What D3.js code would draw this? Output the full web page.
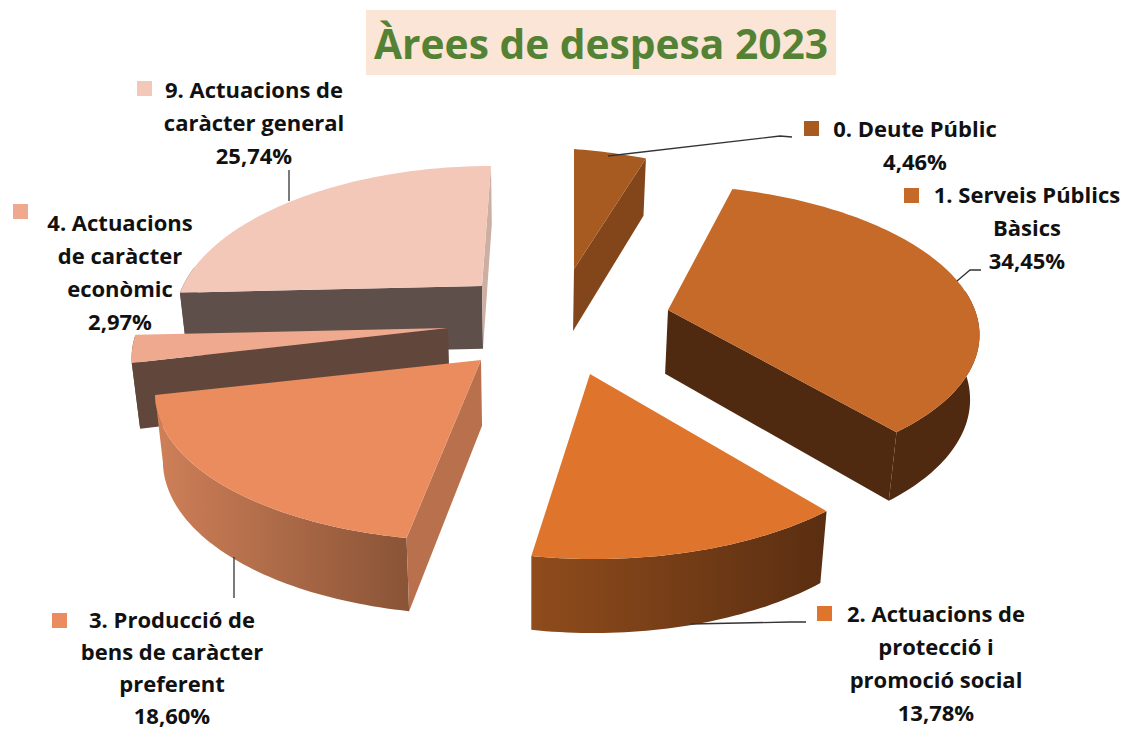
<!DOCTYPE html>
<html>
<head>
<meta charset="utf-8">
<script src="https://d3js.org/d3.v7.min.js"></script>
<style>html,body{margin:0;padding:0;background:#fff}svg{display:block}</style>
</head>
<body>
<script>
const categories = ["0. Deute Públic","1. Serveis Públics Bàsics","2. Actuacions de protecció i promoció social","3. Producció de bens de caràcter preferent","4. Actuacions de caràcter econòmic","9. Actuacions de caràcter general"];
const values = [4.46,34.45,13.78,18.60,2.97,25.74];
const labelLines = [["0. Deute Públic"],["1. Serveis Públics","Bàsics"],["2. Actuacions de","protecció i","promoció social"],["3. Producció de","bens de caràcter","preferent"],["4. Actuacions","de caràcter","econòmic"],["9. Actuacions de","caràcter general"]];
const titleText = "Àrees de despesa 2023";

// layout & style (not data)
const topColors  = ["#a85b20","#c56a28","#df752c","#eb8c5f","#eea98f","#f3c8b9"];
const cutColors  = ["#83461a","#4f2a10",null,"#b9704d","#60463b","#5f4f4a"];
const wallLeft   = ["#83461a","#4f2a10","#8f4c1c","#cf8058","#60463b","#5f4f4a"];
const wallRight  = ["#83461a","#4f2a10","#5a2e11","#8a5437","#60463b","#5f4f4a"];
const cutSides   = [[1],[1],[],[0],[0],[0,1]];
const strip9     = "#cdaea3";
const apexes     = [[574,269],[668,310],[590,374],[481,360],[448,328],[482,286]];
const perspectives = [0.2,0.137,0.13,0.2,0.2,0.2];
const rimFx      = [1,0.99,1.055,1.025,1.0,0.965];
const rimFy      = [1,0.99,1.118,1.007,1.0,1.0];
const shearX     = [0,-11,-4.5,8,0,9];
const shearY     = [20,0,0,0,0,0];
const drawOrder  = [5,4,3,0,1,2];
const labelAnchors = [[915,137,804,121],[1027,203,904,188],[936,622,817,606],[172,628,52,613],[120,231,13,204],[254,98,137,81]];
const lineH = [33,33,33,32,33,33];
const leaders = [
 [[608,156],[780,136],[792,137]],
 [[957,281],[970,270],[981,270]],
 [[690,624],[790,622],[806,622]],
 [[234,557],[234,598]],
 [[289,201],[289,170]]
];

const W=1129,H=729;
const svg=d3.select("body").append("svg").attr("width",W).attr("height",H).style("font-family","'Open Sans', Lato, sans-serif");
const defs=svg.append("defs");

const xS=d3.scaleLinear().domain([-1,1]).range([-310,310]);
const yS=d3.scaleLinear().domain([-1,1]).range([144,-144]);
const depthS=d3.scaleLinear().domain([150,560]).range([57,74]);
const vanishX=530, vanishK=0.021;

const arcs=d3.pie().value(d=>d).sort(null).startAngle(0).endAngle(2*Math.PI)(values);

function rimPoint(i,a){
  const u=Math.sin(a), v=Math.cos(a), s=1/(1+perspectives[i]*v);
  return [apexes[i][0]+xS(u)*s*rimFx[i]+shearX[i]*v, apexes[i][1]+yS(v)*s*rimFy[i]+shearY[i]*u];
}
function lower(p){
  return [p[0]+(vanishX-p[0])*vanishK, p[1]+depthS(p[1])];
}
const line=d3.line();
function rimAngles(a0,a1){
  const n=Math.max(2,Math.ceil((a1-a0)/0.02));
  return d3.range(n+1).map(k=>a0+(a1-a0)*k/n);
}

// title
svg.append("rect").attr("x",366).attr("y",10).attr("width",470).attr("height",65).attr("fill","#fbe5d6");
svg.append("text").attr("x",601).attr("y",59).attr("text-anchor","middle")
  .attr("font-size",40.7).attr("font-weight",700).attr("fill","#548235").text(titleText);

// slices
drawOrder.forEach(i=>{
  const d=arcs[i], g=svg.append("g").attr("class","slice");
  const angles=rimAngles(d.startAngle,d.endAngle);
  const pts=angles.map(a=>rimPoint(i,a));
  const front=angles.filter(a=>Math.cos(a)<0.15).map(a=>rimPoint(i,a));
  if(front.length>1){
    const ext=d3.extent(pts,p=>p[0]);
    const gid="wall"+i;
    const lg=defs.append("linearGradient").attr("id",gid).attr("gradientUnits","userSpaceOnUse")
      .attr("x1",ext[0]).attr("x2",ext[1]).attr("y1",0).attr("y2",0);
    lg.append("stop").attr("offset",0).attr("stop-color",wallLeft[i]);
    lg.append("stop").attr("offset",1).attr("stop-color",wallRight[i]);
    g.append("path").attr("d",line(front.concat(front.map(lower).reverse()))+"Z").attr("fill",`url(#${gid})`);
  }
  cutSides[i].forEach(side=>{
    const rp=side===0?pts[0]:pts[pts.length-1];
    const ap=apexes[i];
    const col=(i===5&&side===1)?strip9:cutColors[i];
    g.append("path").attr("d",line([ap,rp,lower(rp),lower(ap)])+"Z").attr("fill",col);
  });
  g.append("path").attr("d",line([apexes[i]].concat(pts))+"Z").attr("fill",topColors[i]);
});

// leaders
const leaderLine=d3.line();
svg.append("g").selectAll("path").data(leaders).join("path")
  .attr("d",leaderLine).attr("fill","none").attr("stroke","#333").attr("stroke-width",1.3);

// labels
const pct=d=>d3.format(".2f")(d).replace(".",",")+"%";
categories.forEach((c,i)=>{
  const [cx,y0,mx,my]=labelAnchors[i];
  svg.append("rect").attr("x",mx).attr("y",my).attr("width",15).attr("height",15).attr("fill",topColors[i]);
  const t=svg.append("text").attr("text-anchor","middle").attr("font-size",22).attr("font-weight",700).attr("fill","#111");
  labelLines[i].concat([pct(values[i])]).forEach((l,k)=>{
    t.append("tspan").attr("x",cx).attr("y",y0+k*lineH[i]).text(l);
  });
});
</script>
</body>
</html>
